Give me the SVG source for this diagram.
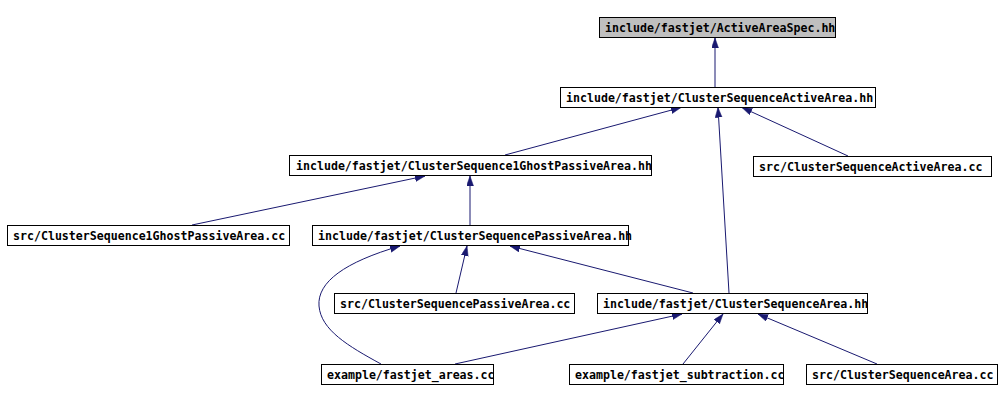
<svg xmlns="http://www.w3.org/2000/svg" width="1000" height="401" viewBox="0 0 1000 401">
<style>
.box{fill:#ffffff;stroke:#000000;stroke-width:1}
.root{fill:#bfbfbf;stroke:#000000;stroke-width:1}
.lbl{font-family:"DejaVu Sans Mono","Liberation Mono",monospace;font-weight:bold;font-size:11.6px;fill:#000000}
.edge{fill:none;stroke:#191970;stroke-width:1;marker-end:url(#arr)}
</style>
<defs>
<marker id="arr" markerUnits="userSpaceOnUse" markerWidth="11" markerHeight="8" refX="10" refY="3.5" orient="auto">
<path d="M0,0 L10,3.5 L0,7 z" fill="#191970" stroke="#191970" stroke-width="0.5"/>
</marker>
</defs>
<rect width="1000" height="401" fill="#ffffff"/>
<g id="connectors">
<path class="edge" d="M715,87 L715,38"/>
<path class="edge" d="M505,155 L681,107.5"/>
<path class="edge" d="M848,156 L742,107.5"/>
<path class="edge" d="M729,293 L718,107.5"/>
<path class="edge" d="M192,225 L425,176"/>
<path class="edge" d="M470,225 L470,176"/>
<path class="edge" d="M456,293 L467,246"/>
<path class="edge" d="M693,293 L510,246"/>
<path class="edge" d="M381,364 C348,346 321,330 319,306 C317,282 345,262 400,246"/>
<path class="edge" d="M455,364 L682,314"/>
<path class="edge" d="M683,364 L723,314"/>
<path class="edge" d="M877,364 L758,314"/>
</g>
<g id="n_ActiveAreaSpec_hh">
<rect class="root" x="599.5" y="17.5" width="236" height="20"/>
<text class="lbl" x="605" y="32">include/fastjet/ActiveAreaSpec.hh</text>
</g>
<g id="n_ClusterSequenceActiveArea_hh">
<rect class="box" x="560.5" y="87.5" width="315" height="20"/>
<text class="lbl" x="566" y="102">include/fastjet/ClusterSequenceActiveArea.hh</text>
</g>
<g id="n_ClusterSequence1GhostPassiveArea_hh">
<rect class="box" x="289.5" y="155.5" width="362" height="20"/>
<text class="lbl" x="296" y="170">include/fastjet/ClusterSequence1GhostPassiveArea.hh</text>
</g>
<g id="n_src_ClusterSequenceActiveArea_cc">
<rect class="box" x="753.5" y="156.5" width="238" height="20"/>
<text class="lbl" x="759" y="171">src/ClusterSequenceActiveArea.cc</text>
</g>
<g id="n_src_ClusterSequence1GhostPassiveArea_cc">
<rect class="box" x="7.5" y="225.5" width="282" height="20"/>
<text class="lbl" x="13" y="240">src/ClusterSequence1GhostPassiveArea.cc</text>
</g>
<g id="n_ClusterSequencePassiveArea_hh">
<rect class="box" x="312.5" y="225.5" width="316" height="20"/>
<text class="lbl" x="318" y="240">include/fastjet/ClusterSequencePassiveArea.hh</text>
</g>
<g id="n_src_ClusterSequencePassiveArea_cc">
<rect class="box" x="334.5" y="293.5" width="240" height="20"/>
<text class="lbl" x="340" y="308">src/ClusterSequencePassiveArea.cc</text>
</g>
<g id="n_ClusterSequenceArea_hh">
<rect class="box" x="597.5" y="293.5" width="270" height="20"/>
<text class="lbl" x="603" y="308">include/fastjet/ClusterSequenceArea.hh</text>
</g>
<g id="n_fastjet_areas_cc">
<rect class="box" x="321.5" y="364.5" width="172" height="20"/>
<text class="lbl" x="327" y="379">example/fastjet_areas.cc</text>
</g>
<g id="n_fastjet_subtraction_cc">
<rect class="box" x="569.5" y="364.5" width="214" height="20"/>
<text class="lbl" x="575" y="379">example/fastjet_subtraction.cc</text>
</g>
<g id="n_src_ClusterSequenceArea_cc">
<rect class="box" x="806.5" y="364.5" width="191" height="20"/>
<text class="lbl" x="812" y="379">src/ClusterSequenceArea.cc</text>
</g>
</svg>
